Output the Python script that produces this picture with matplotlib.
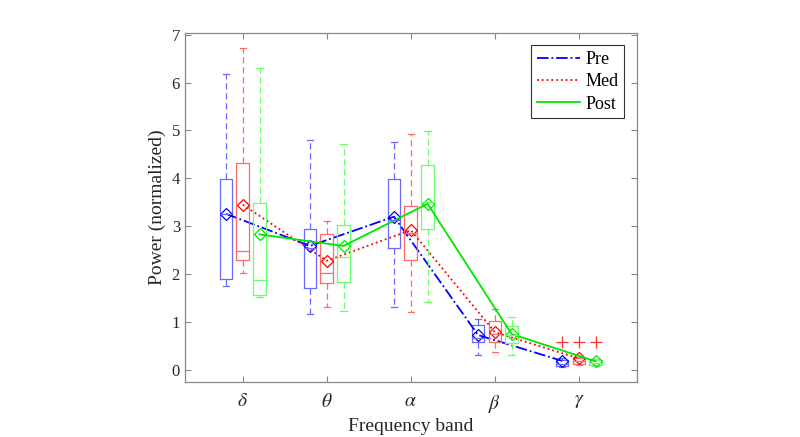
import numpy as np
import matplotlib
matplotlib.use("Agg")
import matplotlib.pyplot as plt
from matplotlib.lines import Line2D

plt.rcParams['font.family'] = ['Liberation Serif', 'DejaVu Serif']
plt.rcParams['mathtext.fontset'] = 'stix'

bands = ['$\\delta$', '$\\theta$', '$\\alpha$', '$\\beta$', '$\\gamma$']
groups = ['Pre', 'Med', 'Post']

# box statistics
pre_q1 = [1.90, 1.71, 2.55, 0.59, 0.09]
pre_med = [3.25, 2.55, 3.13, 0.67, 0.13]
pre_q3 = [3.99, 2.95, 3.99, 0.94, 0.20]
pre_lo = [1.76, 1.17, 1.32, 0.31, 0.06]
pre_hi = [6.18, 4.81, 4.76, 1.07, 0.24]
pre_mean = [3.26, 2.59, 3.20, 0.73, 0.19]
pre_out = [[], [], [], [], [0.58]]

med_q1 = [2.30, 1.82, 2.30, 0.58, 0.13]
med_med = [2.49, 2.03, 2.85, 0.75, 0.18]
med_q3 = [4.33, 2.84, 3.43, 1.02, 0.24]
med_lo = [2.03, 1.32, 1.21, 0.38, 0.10]
med_hi = [6.72, 3.11, 4.93, 1.27, 0.27]
med_mean = [3.45, 2.28, 2.92, 0.79, 0.24]
med_out = [[], [], [], [], [0.58]]

post_q1 = [1.57, 1.84, 2.95, 0.56, 0.11]
post_med = [1.88, 2.35, 3.50, 0.72, 0.15]
post_q3 = [3.49, 3.03, 4.28, 0.92, 0.20]
post_lo = [1.52, 1.23, 1.42, 0.31, 0.09]
post_hi = [6.30, 4.72, 4.99, 1.10, 0.23]
post_mean = [2.83, 2.59, 3.47, 0.75, 0.18]
post_out = [[], [], [], [], [0.58]]

data = [
    (pre_q1, pre_med, pre_q3, pre_lo, pre_hi, pre_mean, pre_out),
    (med_q1, med_med, med_q3, med_lo, med_hi, med_mean, med_out),
    (post_q1, post_med, post_q3, post_lo, post_hi, post_mean, post_out),
]
box_colors = ['#6a6aff', '#ff6a6a', '#6aff6a']
line_colors = ['#0000ff', '#ff0000', '#00e600']
line_styles = ['-.', ':', '-']
offsets = [-0.2, 0.0, 0.2]

fig = plt.figure(figsize=(8, 4.37), dpi=100)
ax = fig.add_axes([0.231, 0.126, 0.565, 0.799])

x = np.arange(1, len(bands) + 1)
for i, (q1, md, q3, lo, hi, mn, out) in enumerate(data):
    stats = []
    for k in range(len(bands)):
        stats.append(dict(q1=q1[k], med=md[k], q3=q3[k], whislo=lo[k],
                          whishi=hi[k], mean=mn[k], fliers=out[k]))
    c = box_colors[i]
    ax.bxp(stats, positions=x + offsets[i], widths=0.15, capwidths=0.075,
           showmeans=False, manage_ticks=False,
           boxprops=dict(color=c, linewidth=0.9),
           medianprops=dict(color=c, linewidth=0.9),
           whiskerprops=dict(color=c, linewidth=0.9, linestyle=(0, (5, 3))),
           capprops=dict(color=c, linewidth=0.9),
           flierprops=dict(marker='+', markeredgecolor='#ff3030', markersize=8,
                           markeredgewidth=0.9))
    ax.plot(x + offsets[i], mn, color=line_colors[i], linestyle=line_styles[i],
            linewidth=1.3, marker='D', markersize=6, markerfacecolor='none',
            markeredgecolor=line_colors[i], markeredgewidth=0.9)

handles = [Line2D([], [], color=line_colors[i], linestyle=line_styles[i], linewidth=1.3)
           for i in range(3)]
leg = ax.legend(handles, groups, loc='upper right', fontsize=13, handlelength=2.4,
                frameon=True, fancybox=False, edgecolor='#333333', framealpha=1,
                borderaxespad=0.7, labelspacing=0.3, handletextpad=0.3,
                borderpad=0.3)
leg.get_frame().set_linewidth(0.8)

ax.set_xlim(0.31, 5.69)
ax.set_ylim(-0.25, 7.04)
ax.set_xticks(x)
ax.set_xticklabels(bands, fontsize=14)
ax.set_yticks(range(0, 8))
ax.tick_params(axis='y', labelsize=12)
ax.tick_params(direction='in', top=True, right=True, length=4, colors='#888888',
               labelcolor='#262626', width=0.8)
ax.tick_params(axis='x', pad=8)
for s in ax.spines.values():
    s.set_color('#888888')
    s.set_linewidth(0.9)
ax.set_xlabel('Frequency band', fontsize=14, color='#262626', labelpad=2)
ax.set_ylabel('Power (normalized)', fontsize=14, color='#262626', labelpad=4)

fig.savefig('out.png', dpi=100)
